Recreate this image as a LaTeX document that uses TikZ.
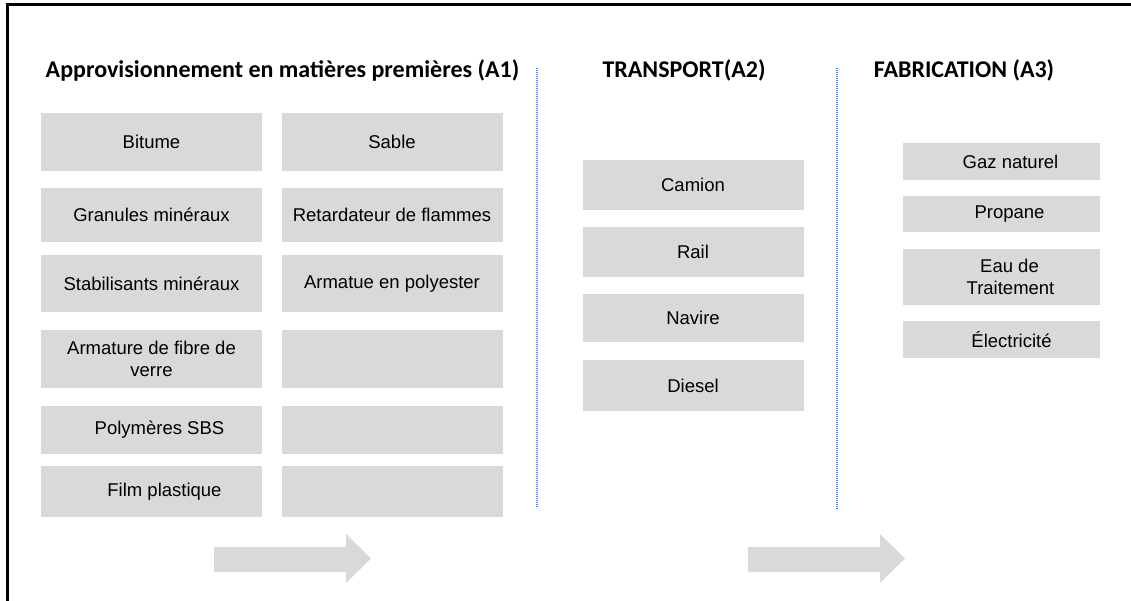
\documentclass[tikz,border=0pt]{standalone}
\usepackage{fontspec}
\setmainfont{Liberation Sans}
\newfontfamily\headfont{Carlito}
\definecolor{boxgray}{RGB}{217,217,217}
\definecolor{sepblue}{RGB}{91,135,214}
\tikzset{
  item/.style={fill=boxgray,inner sep=0pt,align=center,minimum width=221pt,
    font=\fontsize{18.5}{21.5}\selectfont},
  fab/.style={item,minimum width=197pt},
  head/.style={anchor=base,font=\headfont\bfseries\fontsize{24}{28}\selectfont},
  sepline/.style={sepblue,line width=1.2pt,dash pattern=on 1.2pt off 0.8pt}
}
\begin{document}
\begin{tikzpicture}[x=1pt,y=-1pt]
  \useasboundingbox (0,0) rectangle (1131,601);
  \draw[line width=3pt] (7.5,601) -- (7.5,5) -- (1131,5);
  % headings
  \path (282.5,78) node[head] (hA) {Approvisionnement en matières premières (A1)}
        (684,78) node[head] (hB) {TRANSPORT(A2)}
        (964,78) node[head] (hC) {FABRICATION (A3)};
  % separators
  \coordinate (s1t) at (537,68); \coordinate (s1b) at (537,508);
  \coordinate (s2t) at (837,68); \coordinate (s2b) at (837,509);
  \draw[sepline] (s1t) -- (s1b);
  \draw[sepline] (s2t) -- (s2b);
  % A1
  \node[item,minimum height=58pt] (bit) at (151.5,142) {Bitume};
  \node[item,minimum height=58pt] (sab) at (392,142) {Sable};
  \node[item,minimum height=54pt] (gra) at (151.5,215) {Granules minéraux};
  \node[item,minimum height=54pt] (ret) at (392,215) {Retardateur de flammes};
  \node[item,minimum height=57pt] (sta) at (151.5,283.5) {Stabilisants minéraux};
  \node[item,minimum height=57pt] (arp) at (392,283.5) {Armatue en polyester};
  \node[item,minimum height=58pt] (arv) at (151.5,359) {Armature de fibre de\\verre};
  \node[item,minimum height=58pt] (e4) at (392,359) {};
  \node[item,minimum height=48pt] (pol) at (151.5,430) {\hspace*{16pt}Polymères SBS};
  \node[item,minimum height=48pt] (e5) at (392,430) {};
  \node[item,minimum height=51pt] (fil) at (151.5,491.5) {\hspace*{26pt}Film plastique};
  \node[item,minimum height=51pt] (e6) at (392,491.5) {};
  % A2
  \node[item,minimum height=50pt] (cam) at (693,185) {Camion};
  \node[item,minimum height=50pt] (rai) at (693,252) {Rail};
  \node[item,minimum height=48pt] (nav) at (693,318) {Navire};
  \node[item,minimum height=51pt] (die) at (693,385.5) {Diesel};
  % A3
  \node[fab,minimum height=37pt] (gaz) at (1001.5,161.5) {\hspace*{18pt}Gaz naturel};
  \node[fab,minimum height=36pt] (pro) at (1001.5,214) {\hspace*{16pt}Propane};
  \node[fab,minimum height=56pt] (eau) at (1001.5,277) {\hspace*{16pt}Eau de\\\hspace*{18pt}Traitement};
  \node[fab,minimum height=37pt] (ele) at (1001.5,339.5) {\hspace*{20pt}Électricité};
  % arrows
  \foreach \ax in {214,748}
    \fill[boxgray] (\ax,547) -- ++(132,0) -- ++(0,-13) -- ++(25,24.5) -- ++(-25,24.5)
      -- ++(0,-11) -- ++(-132,0) -- cycle;
\end{tikzpicture}
\end{document}
